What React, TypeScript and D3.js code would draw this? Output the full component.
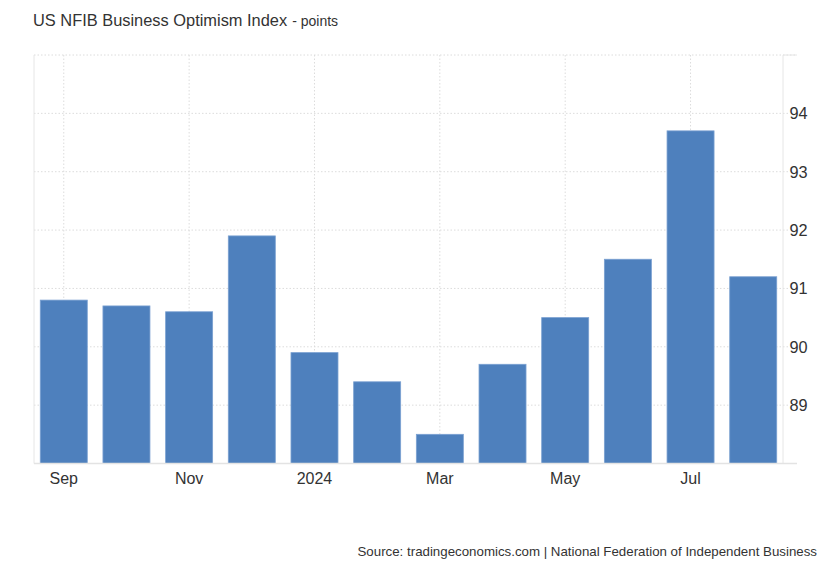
import React from "react";
import * as d3 from "d3";

const months = ["Sep", "Oct", "Nov", "Dec", "Jan", "Feb", "Mar", "Apr", "May", "Jun", "Jul", "Aug"];
const values = [90.8, 90.7, 90.6, 91.9, 89.9, 89.4, 88.5, 89.7, 90.5, 91.5, 93.7, 91.2];
const xTickMonths = ["Sep", "Nov", "Jan", "Mar", "May", "Jul"];
const xTickLabels = ["Sep", "Nov", "2024", "Mar", "May", "Jul"];
const yTicks = [89, 90, 91, 92, 93, 94];

const W = 830;
const H = 567;
const left = 34;
const right = 783;
const top = 55;
const bottom = 463.5;
const font = "'Liberation Sans', Arial, sans-serif";

export default function App() {
  const x = d3.scaleBand<string>().domain(months).range([left, right]).paddingInner(0.25).paddingOuter(0.1);
  const y = d3.scaleLinear().domain([88, 95]).range([bottom, top]);
  return (
    <svg width={W} height={H} style={{ position: "absolute", left: 0, top: 0 }} fontFamily={font}>
      <rect width={W} height={H} fill="#fff" />
      <text x={33} y={26} fill="#333" fontSize={16.4}>
        US NFIB Business Optimism Index
        <tspan fontSize={14} dx={5}>- points</tspan>
      </text>
      {[...yTicks, 95].map((t) => (
        <line key={"h" + t} x1={left} x2={t === 95 ? 797 : 790} y1={y(t)} y2={y(t)} stroke="#dcdcdc" strokeDasharray="1.5,2" />
      ))}
      {xTickMonths.map((m) => (
        <line key={"v" + m} x1={x(m)! + x.bandwidth() / 2} x2={x(m)! + x.bandwidth() / 2} y1={top} y2={bottom} stroke="#dcdcdc" strokeDasharray="1.5,2" />
      ))}
      <line x1={left} x2={left} y1={top} y2={bottom} stroke="#e6e6e6" />
      <line x1={right} x2={right} y1={top} y2={bottom} stroke="#e6e6e6" />
      <line x1={783} x2={797} y1={y(95)} y2={y(95)} stroke="#e6e6e6" />
      {months.map((m, i) => (
        <rect key={m} x={x(m)} y={y(values[i])} width={x.bandwidth()} height={bottom - y(values[i])} fill="#4e80bd" stroke="#7aa0d1" strokeWidth={0.8} />
      ))}
      <line x1={left} x2={797} y1={bottom} y2={bottom} stroke="#e3e3e3" strokeWidth={1.5} />
      {yTicks.map((t) => (
        <text key={"yl" + t} x={789.5} y={y(t) + 6} fill="#333" fontSize={16.3}>{t}</text>
      ))}
      {xTickMonths.map((m, i) => (
        <text key={"xl" + m} x={x(m)! + x.bandwidth() / 2} y={484} textAnchor="middle" fill="#333" fontSize={16}>{xTickLabels[i]}</text>
      ))}
      <text x={817} y={556} textAnchor="end" fill="#333" fontSize={13.3}>
        Source: tradingeconomics.com | National Federation of Independent Business
      </text>
    </svg>
  );
}
